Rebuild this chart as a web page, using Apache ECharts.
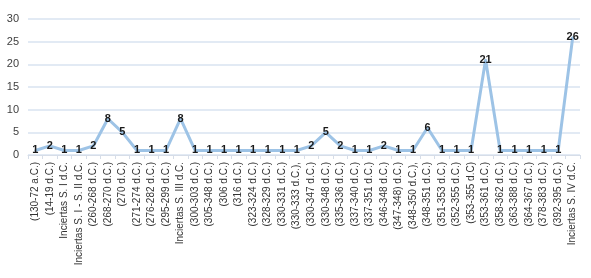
<!DOCTYPE html>
<html>
<head>
<meta charset="utf-8">
<script src="https://cdn.jsdelivr.net/npm/echarts@6/dist/echarts.min.js"></script>
<style>html,body{margin:0;padding:0;background:#fff}#c{width:591px;height:278px}</style>
</head>
<body>
<div id="c"></div>
<script>
var categories = [
  "(130-72 a.C.)", "(14-19 d.C.)", "Inciertas S. I d.C.", "Inciertas S. I - S. II d.C.",
  "(260-268 d.C.)", "(268-270 d.C.)", "(270 d.C.)", "(271-274 d.C.)", "(276-282 d.C.)",
  "(295-299 d.C.)", "Inciertas S. III d.C.", "(300-303 d.C.)", "(305-348 d.C.)", "(306 d.C.)",
  "(316 d.C.)", "(323-324 d.C.)", "(328-329 d.C.)", "(330-331 d.C.)", "(330-333 d.C.),",
  "(330-347 d.C.)", "(330-348 d.C.)", "(335-336 d.C.)", "(337-340 d.C.)", "(337-351 d.C.)",
  "(346-348 d.C.)", "(347-348) d.C.)", "(348-350 d.C.),", "(348-351 d.C.)", "(351-353 d.C.)",
  "(352-355 d.C.)", "(353-355 d.C)", "(353-361 d.C.)", "(358-362 d.C.)", "(363-388 d.C.)",
  "(364-367 d.C.)", "(378-383 d.C.)", "(392-395 d.C.)", "Inciertas S. IV d.C."
];
var values = [
  1, 2, 1, 1, 2, 8, 5, 1, 1, 1, 8, 1, 1, 1, 1, 1, 1, 1, 1, 2, 5, 2, 1, 1, 2, 1, 1, 6, 1, 1, 1, 21, 1, 1, 1, 1, 1, 26
];
var yTicks = { min: 0, max: 30, interval: 5 };

var chart = echarts.init(document.getElementById('c'), null, { renderer: 'canvas' });
chart.setOption({
  animation: false,
  textStyle: { fontFamily: 'Liberation Sans, Arial, sans-serif' },
  grid: { left: 28, right: 11, top: 19, bottom: 123 },
  xAxis: {
    type: 'category',
    data: categories,
    boundaryGap: true,
    axisLine: { lineStyle: { color: '#d6dde8', width: 1 } },
    axisTick: { show: true, length: 4, lineStyle: { color: '#d6dde8' } },
    axisLabel: { rotate: 90, interval: 0, fontSize: 10, color: '#333333', margin: 7, fontFamily: 'Liberation Sans' }
  },
  yAxis: {
    type: 'value',
    min: yTicks.min, max: yTicks.max, interval: yTicks.interval,
    axisLine: { show: false },
    axisTick: { show: false },
    axisLabel: { fontSize: 11, color: '#404040', margin: 9, fontFamily: 'Liberation Sans' },
    splitLine: { lineStyle: { color: '#d9e3f1', width: 1.5 } }
  },
  series: [{
    type: 'line',
    data: values,
    symbol: 'circle',
    symbolSize: 2,
    showSymbol: true,
    showAllSymbol: true,
    itemStyle: { color: '#9dc3e6' },
    lineStyle: { color: '#9dc3e6', width: 3 },
    label: {
      show: true,
      position: 'inside',
      offset: [0, 2],
      fontSize: 11,
      fontWeight: 'bold',
      color: '#1a1a1a',
      fontFamily: 'Liberation Sans'
    },
    labelLayout: { hideOverlap: false }
  }]
});
</script>
</body>
</html>
